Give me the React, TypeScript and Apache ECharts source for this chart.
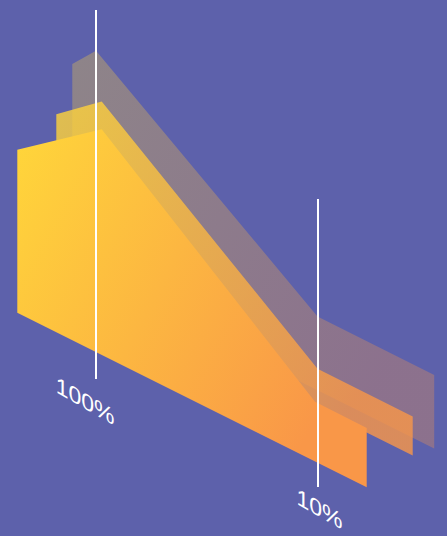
import React, { useEffect, useRef } from 'react';
import * as echarts from 'echarts';

// Stage axes (the two vertical white lines)
const stageLabels = ['100%', '10%'];
const stagePositions = [1, 2];
const axisTops = [526, 337];
const axisBottoms = [157, 49];
const labelPosX = [0.951, 2.007];
const labelPosY = [135, 27];

// Layers, drawn back to front: top edge polyline and bottom edge (left, right)
const layerNames = ['back', 'middle', 'front'];
const layerX = [
  [0.8932, 1.0, 1.9977, 2.5234],
  [0.8212, 1.0257, 1.9977, 2.4266],
  [0.6455, 1.0257, 1.9865, 2.2194],
];
const layerTop = [
  [472, 485.3, 219.5, 161],
  [421.7, 434.4, 167.3, 119.5],
  [386.3, 406.8, 134.3, 108],
];
const layerBottom = [
  [268, 87.6],
  [258.5, 80.5],
  [223.2, 48.8],
];

const layerOpacity = [0.3, 0.8, 1];
const gradientFill = {
  type: 'linear',
  x: 0,
  y: 0,
  x2: 1,
  y2: 0.54,
  colorStops: [
    { offset: 0, color: '#FFD63A' },
    { offset: 1, color: '#F99748' },
  ],
};

export default function App() {
  const ref = useRef<HTMLDivElement>(null);
  useEffect(() => {
    if (!ref.current) return;
    const chart = echarts.init(ref.current, undefined, { renderer: 'svg' });
    const layerSeries = layerNames.map((name, i) => ({
      type: 'custom',
      name,
      clip: false,
      silent: true,
      data: [[1, 0]],
      renderItem: (_params: any, api: any) => {
        const xs = layerX[i];
        const ts = layerTop[i];
        const bs = layerBottom[i];
        const pts = xs.map((x, k) => api.coord([x, ts[k]]));
        pts.push(api.coord([xs[xs.length - 1], bs[1]]));
        pts.push(api.coord([xs[0], bs[0]]));
        return {
          type: 'polygon',
          shape: { points: pts },
          style: { fill: gradientFill, opacity: layerOpacity[i] },
        };
      },
    }));
    const axisSeries = {
      type: 'custom',
      name: 'axes',
      clip: false,
      silent: true,
      data: stagePositions.map((p) => [p, 0]),
      renderItem: (params: any, api: any) => {
        const j = params.dataIndex;
        const top = api.coord([stagePositions[j], axisTops[j]]);
        const bot = api.coord([stagePositions[j], axisBottoms[j]]);
        const lp = api.coord([labelPosX[j], labelPosY[j]]);
        return {
          type: 'group',
          children: [
            {
              type: 'line',
              shape: { x1: top[0], y1: top[1], x2: bot[0], y2: bot[1] },
              style: { stroke: '#ffffff', lineWidth: 2 },
            },
            {
              type: 'text',
              x: lp[0],
              y: lp[1],
              skewY: -0.52,
              style: {
                text: stageLabels[j],
                fill: '#ffffff',
                fontSize: 23,
                fontFamily: 'Liberation Sans, Arial, sans-serif',
                align: 'center',
                verticalAlign: 'middle',
              },
            },
          ],
        };
      },
    };
    chart.setOption({
      animation: false,
      backgroundColor: '#5D61AB',
      grid: { left: 96, right: 129, top: 0, bottom: 0 },
      xAxis: { type: 'value', min: 1, max: 2, show: false },
      yAxis: { type: 'value', min: 0, max: 536, show: false },
      series: [...layerSeries, axisSeries],
    });
    return () => chart.dispose();
  }, []);
  return (
    <div
      ref={ref}
      style={{ position: 'fixed', left: 0, top: 0, width: 447, height: 536 }}
    />
  );
}
